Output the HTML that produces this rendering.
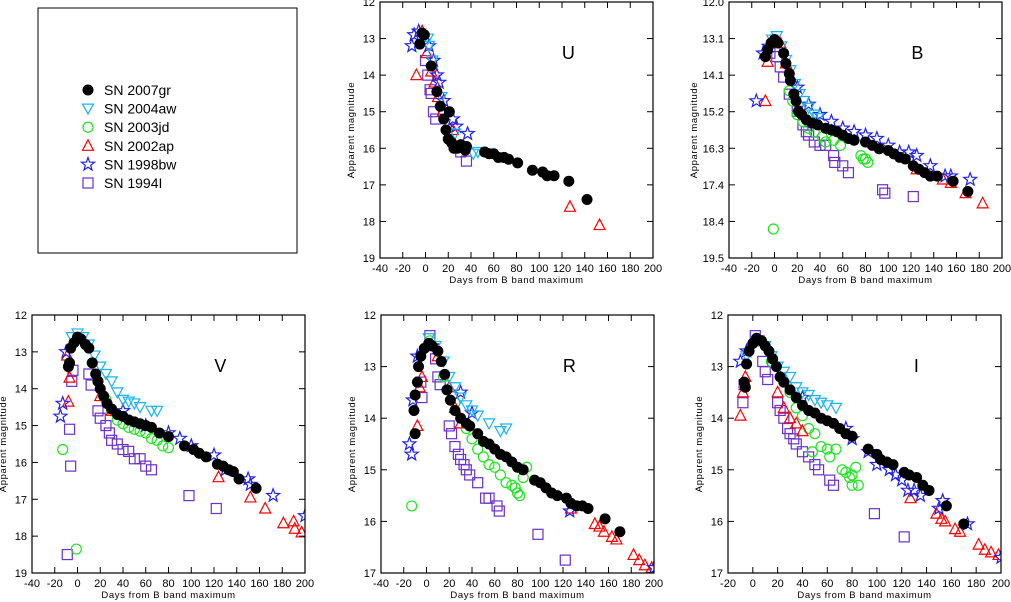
<!DOCTYPE html>
<html><head><meta charset="utf-8">
<style>
html,body{margin:0;padding:0;background:#fff;}
svg{display:block;font-family:"Liberation Sans",sans-serif;}
</style></head>
<body>
<svg id="c" width="1011" height="602" viewBox="0 0 1011 602">
<g>
<rect x="38" y="8" width="259" height="245" fill="none" stroke="#000" stroke-width="1"/>
<g id="legend"></g>
</g>
</svg>
<script>
const NS="http://www.w3.org/2000/svg";
const svg=document.getElementById('c');
const seriesNames=["SN 2007gr","SN 2004aw","SN 2003jd","SN 2002ap","SN 1998bw","SN 1994I"];
const seriesKeys=["gr07","aw04","jd03","ap02","bw98","i94"];
const colors={gr07:"#000",aw04:"#1ab4f0",jd03:"#1ee61e",ap02:"#f00",bw98:"#2020f0",i94:"#6a30c8"};
const drawOrder=["i94","jd03","ap02","bw98","aw04","gr07"];

// ---- U band ----
const U_gr07=[[-5,13.15],[-3,12.85],[-1,12.9],[5,13.75],[10,14.45],[13,14.85],[16,15.2],[18,15.5],[20,15.75],[21,15.0],[23,15.85],[25,16.0],[28,16.0],[31,15.9],[35,16.05],[36,15.95],[52,16.1],[56,16.15],[60,16.15],[64,16.25],[69,16.25],[73,16.3],[81,16.4],[94,16.6],[103,16.65],[107,16.75],[113,16.75],[126,16.9],[142,17.4]];
const U_aw04=[[2,13.0],[3,13.2],[6,13.6],[14,14.6],[26,15.6],[42,16.15],[46,16.1]];
const U_jd03=[];
const U_ap02=[[-8,14.0],[-3,12.8],[1,13.4],[5,13.9],[8,14.2],[11,14.6],[15,15.0],[24,15.5],[127,17.6],[153,18.1]];
const U_bw98=[[-12,13.2],[-10,12.9],[-6,12.8],[3,13.2],[7,13.6],[10,14.0],[12,14.2],[16,14.7],[24,15.2],[27,15.4],[37,15.6]];
const U_i94=[[0,13.6],[2,14.0],[4,14.4],[5,14.5],[7,15.0],[9,15.2],[31,16.1],[36,16.35]];
// ---- B band ----
const B_gr07=[[-8,13.6],[-6,13.4],[-3,13.2],[0,13.1],[3,13.2],[8,13.5],[10,13.8],[13,14.1],[14,14.3],[17,14.7],[19,14.9],[21,15.2],[24,15.3],[28,15.45],[33,15.55],[38,15.6],[45,15.7],[50,15.75],[55,15.8],[60,15.9],[65,16.0],[70,16.05],[80,16.1],[86,16.2],[92,16.3],[100,16.35],[105,16.45],[110,16.55],[115,16.6],[122,16.8],[127,16.9],[132,17.0],[137,17.1],[143,17.1],[157,17.25],[170,17.55]];
const B_aw04=[[-2,13.1],[2,13.0],[6,13.3],[10,13.7],[14,14.0],[18,14.4],[22,14.7],[26,14.9],[30,15.1],[35,15.3],[38,15.4]];
const B_jd03=[[-1,18.65],[13,14.6],[16,14.9],[20,15.3],[25,15.5],[30,15.7],[35,15.8],[42,15.95],[45,16.1],[52,16.05],[58,16.2],[76,16.5],[78,16.6],[80,16.6],[82,16.7]];
const B_ap02=[[-6,13.75],[-8,14.9],[5,13.2],[10,13.8],[125,16.9],[148,17.2],[155,17.3],[168,17.6],[183,17.9]];
const B_bw98=[[-16,14.9],[-10,13.5],[-5,13.3],[20,14.5],[30,15.0],[40,15.3],[50,15.5],[60,15.7],[70,15.8],[80,15.9],[90,16.0],[100,16.2],[110,16.4],[118,16.4],[125,16.5],[137,16.8],[150,17.1],[155,17.1],[172,17.2]];
const B_i94=[[-4,13.5],[2,13.6],[5,13.9],[8,14.2],[13,14.7],[20,15.2],[25,15.6],[28,15.8],[30,15.9],[35,16.1],[40,16.2],[45,16.2],[52,16.5],[53,16.7],[60,16.8],[65,17.0],[95,17.5],[97,17.6],[122,17.7]];
// ---- V band ----
const V_gr07=[[-8,13.4],[-7,13.3],[-6,12.9],[-3,12.75],[0,12.6],[3,12.65],[7,12.8],[10,12.9],[13,13.3],[16,13.6],[18,13.8],[20,14.0],[23,14.2],[26,14.4],[30,14.55],[35,14.7],[40,14.75],[45,14.85],[50,14.9],[55,14.95],[60,15.0],[65,15.05],[72,15.2],[80,15.3],[94,15.55],[102,15.65],[107,15.75],[113,15.85],[123,16.05],[128,16.1],[133,16.2],[137,16.25],[142,16.45],[157,16.7]];
const V_aw04=[[-5,12.6],[0,12.5],[5,12.6],[10,12.8],[15,13.1],[20,13.4],[25,13.6],[30,13.8],[35,14.1],[40,14.3],[45,14.35],[50,14.4],[55,14.5],[65,14.6],[70,14.6]];
const V_jd03=[[-13,15.65],[-1,18.35],[13,13.3],[18,13.8],[25,14.3],[30,14.6],[35,14.85],[40,14.95],[45,15.05],[50,15.1],[55,15.15],[60,15.2],[65,15.35],[70,15.4],[75,15.55],[80,15.6]];
const V_ap02=[[-9,13.1],[-8,14.35],[-7,13.7],[20,14.2],[30,14.6],[124,16.4],[152,16.95],[165,17.25],[181,17.65],[190,17.6],[191,17.8],[197,17.9]];
const V_bw98=[[-15,14.75],[-13,14.4],[-10,13.0],[40,14.6],[60,15.0],[80,15.2],[90,15.35],[100,15.55],[120,15.8],[130,16.2],[150,16.45],[152,16.6],[172,16.9],[200,17.45]];
const V_i94=[[-9,18.5],[-7,15.1],[-6,16.1],[-5,13.8],[-4,13.5],[10,13.6],[12,13.9],[18,14.6],[20,14.8],[25,15.0],[28,15.2],[30,15.4],[35,15.5],[40,15.65],[45,15.7],[50,15.9],[55,15.9],[60,16.1],[65,16.2],[98,16.9],[122,17.25]];
// ---- R band ----
const R_gr07=[[-10,14.3],[-11,13.85],[-10,13.55],[-8,13.3],[-7,13.0],[-5,12.8],[-2,12.65],[2,12.55],[5,12.6],[10,12.7],[13,12.9],[16,13.15],[18,13.45],[21,13.65],[25,13.85],[30,14.0],[35,14.1],[38,14.15],[45,14.3],[50,14.45],[55,14.5],[60,14.6],[65,14.7],[70,14.75],[75,14.85],[80,14.95],[85,15.0],[95,15.2],[100,15.25],[105,15.35],[110,15.45],[115,15.5],[123,15.55],[127,15.65],[132,15.7],[137,15.7],[142,15.75],[157,15.95],[170,16.2]];
const R_aw04=[[2,12.45],[8,12.6],[15,12.9],[20,13.2],[25,13.4],[30,13.6],[35,13.75],[40,13.85],[45,13.95],[55,14.1],[65,14.25],[70,14.2]];
const R_jd03=[[-13,15.7],[3,12.5],[15,13.2],[25,13.7],[35,14.2],[40,14.4],[45,14.6],[50,14.75],[55,14.9],[60,14.95],[65,15.1],[70,15.25],[75,15.3],[78,15.35],[80,15.45],[82,15.5],[85,15.15],[88,14.95]];
const R_ap02=[[-8,14.15],[-6,13.4],[-4,13.2],[10,12.8],[20,13.4],[25,13.8],[30,14.1],[127,15.75],[148,16.05],[152,16.1],[156,16.2],[163,16.3],[167,16.35],[182,16.65],[187,16.75],[192,16.85],[198,16.9]];
const R_bw98=[[-15,14.5],[-13,14.7],[-12,13.65],[-8,12.8],[5,12.6],[30,13.5],[40,13.9],[126,15.8],[200,16.9]];
const R_i94=[[-4,13.6],[-5,13.3],[3,12.4],[8,12.85],[10,13.2],[12,13.35],[20,14.15],[22,14.3],[25,14.55],[28,14.7],[30,14.8],[33,14.9],[35,15.0],[38,15.1],[45,15.25],[52,15.55],[55,15.55],[62,15.7],[64,15.8],[98,16.25],[122,16.75]];
// ---- I band ----
const I_gr07=[[-7,13.3],[-6,13.4],[-5,12.95],[-3,12.7],[0,12.55],[3,12.45],[7,12.5],[10,12.6],[13,12.7],[16,12.85],[19,13.0],[22,13.2],[25,13.3],[30,13.45],[35,13.6],[40,13.75],[45,13.85],[50,13.9],[55,14.0],[60,14.05],[65,14.1],[70,14.2],[75,14.3],[80,14.35],[93,14.6],[100,14.7],[103,14.8],[108,14.85],[113,14.9],[122,15.05],[126,15.1],[132,15.15],[137,15.3],[142,15.4],[156,15.7],[170,16.05]];
const I_aw04=[[-5,12.8],[3,12.5],[10,12.6],[15,12.8],[20,13.0],[25,13.1],[30,13.2],[35,13.4],[40,13.5],[45,13.55],[50,13.65],[55,13.7],[60,13.75],[67,13.8]];
const I_jd03=[[3,12.5],[15,12.9],[25,13.3],[30,13.5],[35,13.8],[40,13.95],[45,14.2],[50,14.3],[48,14.65],[55,14.55],[60,14.6],[62,14.75],[67,14.6],[72,15.0],[75,15.05],[78,15.15],[80,15.1],[83,14.95],[80,15.3],[85,15.3]];
const I_ap02=[[-10,13.95],[-8,13.5],[-6,13.2],[20,13.5],[25,13.8],[30,14.0],[35,14.1],[40,14.25],[127,15.55],[148,15.85],[152,15.95],[155,16.0],[163,16.15],[167,16.2],[182,16.45],[187,16.55],[192,16.6],[198,16.65]];
const I_bw98=[[-10,12.9],[-5,12.7],[40,13.6],[75,14.2],[80,14.4],[93,14.65],[100,14.9],[110,15.0],[115,15.1],[120,15.2],[125,15.4],[130,15.4],[135,15.5],[150,15.75],[153,15.6],[173,16.05],[200,16.7]];
const I_i94=[[-8,13.7],[-7,13.35],[2,12.4],[5,12.5],[8,12.9],[10,13.1],[12,13.25],[20,13.7],[22,13.85],[25,14.0],[28,14.2],[30,14.3],[33,14.4],[35,14.5],[40,14.65],[45,14.75],[50,14.9],[53,15.0],[62,15.2],[65,15.3],[98,15.85],[122,16.3]];

const xTicks40=[-40,-20,0,20,40,60,80,100,120,140,160,180,200];
const xTicks20=[-20,0,20,40,60,80,100,120,140,160,180,200];
const yTicksU=["12","13","14","15","16","17","18","19"];
const yTicksB=["12.0","13.1","14.1","15.2","16.3","17.4","18.4","19.5"];
const yTicksR=["12","13","14","15","16","17"];

const panels=[
 {name:"U",x0:380,x1:653,y0:2,y1:258,xmin:-40,xmax:200,ymin:12,ymax:19,xt:xTicks40,yt:yTicksU,data:{gr07:U_gr07,aw04:U_aw04,jd03:U_jd03,ap02:U_ap02,bw98:U_bw98,i94:U_i94}},
 {name:"B",x0:729,x1:1002,y0:2,y1:258,xmin:-40,xmax:200,ymin:12,ymax:19.5,xt:xTicks40,yt:yTicksB,data:{gr07:B_gr07,aw04:B_aw04,jd03:B_jd03,ap02:B_ap02,bw98:B_bw98,i94:B_i94}},
 {name:"V",x0:32,x1:305,y0:315,y1:573,xmin:-40,xmax:200,ymin:12,ymax:19,xt:xTicks40,yt:yTicksU,data:{gr07:V_gr07,aw04:V_aw04,jd03:V_jd03,ap02:V_ap02,bw98:V_bw98,i94:V_i94}},
 {name:"R",x0:381,x1:654,y0:315,y1:573,xmin:-40,xmax:200,ymin:12,ymax:17,xt:xTicks40,yt:yTicksR,data:{gr07:R_gr07,aw04:R_aw04,jd03:R_jd03,ap02:R_ap02,bw98:R_bw98,i94:R_i94}},
 {name:"I",x0:728,x1:1001,y0:315,y1:573,xmin:-20,xmax:200,ymin:12,ymax:17,xt:xTicks20,yt:yTicksR,data:{gr07:I_gr07,aw04:I_aw04,jd03:I_jd03,ap02:I_ap02,bw98:I_bw98,i94:I_i94}}
];

function el(tag,attrs,parent){const e=document.createElementNS(NS,tag);for(const k in attrs)e.setAttribute(k,attrs[k]);parent.appendChild(e);return e;}

function marker(key,cx,cy,parent){
 const c=colors[key];let m;
 if(key==="gr07"){m=el('circle',{cx:cx,cy:cy,r:5.5,fill:"#000"},parent);}
 else if(key==="jd03"){m=el('circle',{cx:cx,cy:cy,r:5,fill:"none",stroke:c,"stroke-width":1.2},parent);}
 else if(key==="i94"){m=el('rect',{x:cx-5,y:cy-5,width:10,height:10,fill:"none",stroke:c,"stroke-width":1.2},parent);}
 else if(key==="ap02"){m=el('polygon',{points:`${cx},${cy-6} ${cx+5.5},${cy+4.5} ${cx-5.5},${cy+4.5}`,fill:"none",stroke:c,"stroke-width":1.2},parent);}
 else if(key==="aw04"){m=el('polygon',{points:`${cx-5.5},${cy-4.5} ${cx+5.5},${cy-4.5} ${cx},${cy+5.5}`,fill:"none",stroke:c,"stroke-width":1.2},parent);}
 else {let p=[];for(let i=0;i<10;i++){const r=i%2?2.8:6.8;const a=-Math.PI/2+i*Math.PI/5;p.push((cx+r*Math.cos(a)).toFixed(1)+","+(cy+r*Math.sin(a)).toFixed(1));}
  m=el('polygon',{points:p.join(" "),fill:"none",stroke:c,"stroke-width":1.2},parent);}
 return m;
}

panels.forEach(P=>{
 const g=el('g',{},svg);
 
 
 const sx=v=>P.x0+(v-P.xmin)/(P.xmax-P.xmin)*(P.x1-P.x0);
 const sy=v=>P.y0+(v-P.ymin)/(P.ymax-P.ymin)*(P.y1-P.y0);
 const clip='clip'+P.name;
 const cp=el('clipPath',{id:clip},g);el('rect',{x:P.x0,y:P.y0,width:P.x1-P.x0,height:P.y1-P.y0},cp);
 const dg=el('g',{'clip-path':`url(#${clip})`},g);
 
 
 drawOrder.forEach(k=>{
  const sg=el('g',{},dg);
  
  
  P.data[k].forEach(d=>{const m=marker(k,sx(d[0]),sy(d[1]),sg);
   
   });
 });
 const box=el('rect',{x:P.x0,y:P.y0,width:P.x1-P.x0,height:P.y1-P.y0,fill:"none",stroke:"#000","stroke-width":1.2},g);
 
 
 P.xt.forEach(t=>{const x=sx(t);
  el('line',{x1:x,x2:x,y1:P.y1,y2:P.y1-6,stroke:"#000"},g);
  el('line',{x1:x,x2:x,y1:P.y0,y2:P.y0+6,stroke:"#000"},g);
  const tx=el('text',{x:x,y:P.y1+14,"font-size":11,"text-anchor":"middle"},g);tx.textContent=t;
  
  
 });
 const n=P.yt.length;
 P.yt.forEach((t,i)=>{const y=P.y0+i/(n-1)*(P.y1-P.y0);
  el('line',{x1:P.x0,x2:P.x0+6,y1:y,y2:y,stroke:"#000"},g);
  el('line',{x1:P.x1,x2:P.x1-6,y1:y,y2:y,stroke:"#000"},g);
  const tx=el('text',{x:P.x0-5,y:y+4,"font-size":11,"text-anchor":"end"},g);tx.textContent=t;
  
  
 });
 const xl=el('text',{x:(P.x0+P.x1)/2,y:P.y1+25,"font-size":9.5,"text-anchor":"middle","letter-spacing":"0.6"},g);
 xl.textContent="Days from B band maximum";
 
 
 const yc=(P.y0+P.y1)/2, xx=P.x0-(P.name==="B"?32:26);
 const yl=el('text',{x:xx,y:yc,"font-size":9.5,"text-anchor":"middle","letter-spacing":"0.6",transform:`rotate(-90 ${xx} ${yc})`},g);
 yl.textContent="Apparent magnitude";
 
 
 const bl=el('text',{x:P.x0+0.69*(P.x1-P.x0),y:P.y0+57,"font-size":18,"text-anchor":"middle"},g);
 bl.textContent=P.name;
 
 
});

const lg=document.getElementById('legend');
seriesKeys.forEach((k,i)=>{
 const y=90+i*18.6;
 const eg=el('g',{},lg);
 
 
 marker(k,88,y,eg);
 const t=el('text',{x:104,y:y+5,"font-size":14},eg);
 t.textContent=seriesNames[i];
});
</script>
</body></html>
